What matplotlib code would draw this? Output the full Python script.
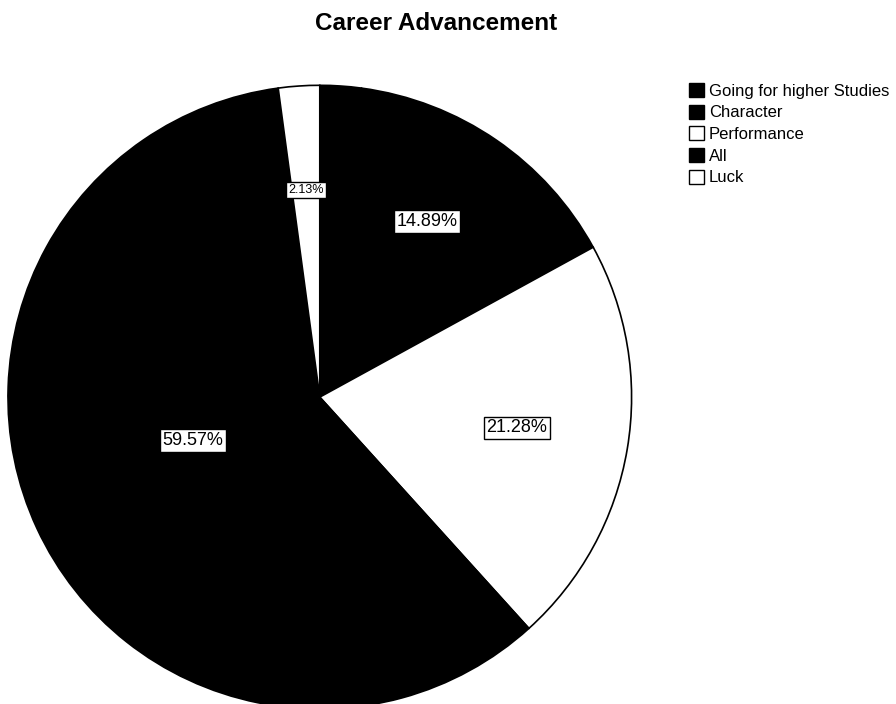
import numpy as np
import matplotlib
matplotlib.use("Agg")
from matplotlib import pyplot as plt
from matplotlib.patches import Patch

plt.rcParams['font.family'] = ['Liberation Sans', 'DejaVu Sans']

# responses to "Career Advancement" (percent of respondents)
categories = ['Going for higher Studies', 'Character', 'Performance', 'All', 'Luck']
percents = [2.13, 14.89, 21.28, 59.57, 2.13]
colors = ['black', 'black', 'white', 'black', 'white']
show_label = [False, True, True, True, True]
# label placement: radius fraction and angular nudge (degrees)
label_radius = [0.65, 0.66, 0.64, 0.43, 0.665]
label_nudge = [0, 3, 0.7, -6, 0]
label_size = [13, 13, 13, 13, 9]

fig = plt.figure(figsize=(8.96, 7.04), dpi=100)
fig.text(0.487, 1 - 30 / 704, 'Career Advancement', ha='center', va='baseline',
         fontsize=17.5, fontweight='bold')

ax = fig.add_axes([0.0089, -0.0071, 0.696, 0.886])
wedges, _ = ax.pie(percents, colors=colors, startangle=90, counterclock=False,
                   radius=1, wedgeprops=dict(edgecolor='black', linewidth=1.2))
ax.set_xlim(-1, 1)
ax.set_ylim(-1, 1)
ax.set_aspect('equal')
ax.axis('off')

for i, (w, p) in enumerate(zip(wedges, percents)):
    if not show_label[i]:
        continue
    ang = np.deg2rad((w.theta1 + w.theta2) / 2 + label_nudge[i])
    r = label_radius[i]
    fam = ['Liberation Sans Narrow', 'Liberation Sans'] if label_size[i] < 10 else ['Liberation Sans']
    ax.text(r * np.cos(ang), r * np.sin(ang), f'{p:.2f}%', ha='center', va='center',
            fontsize=label_size[i], family=fam,
            bbox=dict(boxstyle='square,pad=0.15', facecolor='white',
                      edgecolor='black', linewidth=1))

handles = [Patch(facecolor=c, edgecolor='black', linewidth=1) for c in colors]
fig.legend(handles, categories, loc='upper left', bbox_to_anchor=(0.769, 0.882),
           frameon=False, fontsize=12, handlelength=0.9, handleheight=0.9,
           handletextpad=0.3, labelspacing=0.36, borderpad=0, borderaxespad=0)

fig.savefig('out.png', dpi=100)
